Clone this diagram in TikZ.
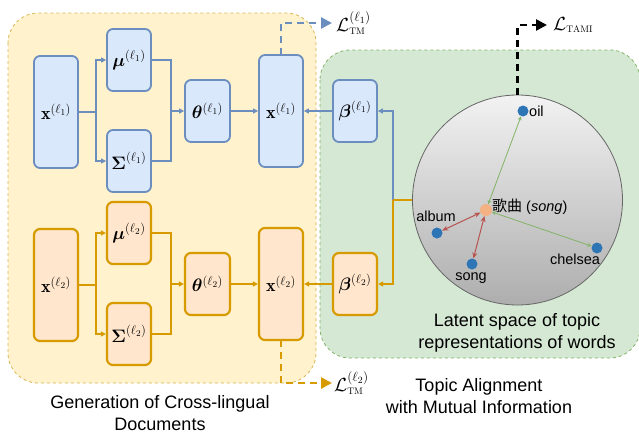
\RequirePackage{fix-cm}
\documentclass[tikz,border=0pt]{standalone}
\usepackage{fontspec}
\usepackage{amsmath,bm}
\newfontfamily\arialf{Liberation Sans}
\newfontfamily\cjkf{Noto Sans CJK SC}
\usetikzlibrary{arrows.meta,calc}
\definecolor{bstroke}{HTML}{6C8EBF}
\definecolor{bfill}{HTML}{DAE8FC}
\definecolor{ostroke}{HTML}{D79B00}
\definecolor{ofill}{HTML}{FFE6CC}
\definecolor{yfill}{HTML}{FFF2CC}
\definecolor{ystroke}{HTML}{D6B656}
\definecolor{gfill}{HTML}{D5E8D4}
\definecolor{gstroke}{HTML}{82B366}
\definecolor{rstroke}{HTML}{B85450}
\definecolor{dotblue}{HTML}{2E75B6}
\definecolor{dotsalmon}{HTML}{F4B183}
\tikzset{
  box/.style={draw, rounded corners=6pt, line width=1.8pt, minimum width=44pt, inner sep=0pt, font=\fontsize{18}{21}\selectfont},
  bbox/.style={box, draw=bstroke, fill=bfill},
  obox/.style={box, draw=ostroke, fill=ofill, line width=2.2pt},
  bconn/.style={draw=bstroke, line width=1.2pt, -{Triangle[length=5pt,width=5pt]}},
  oconn/.style={draw=ostroke, line width=1.6pt, -{Triangle[length=5pt,width=5pt]}},
  bplain/.style={draw=bstroke, line width=1.2pt},
  oplain/.style={draw=ostroke, line width=1.6pt},
  dashout/.style={line width=2.6pt, dash pattern=on 7pt off 5pt, -{Triangle[length=11pt,width=11pt]}},
  region/.style={dashed, line width=0.8pt, rounded corners=30pt},
  wdot/.style={circle, inner sep=0pt, minimum size=11pt, fill=dotblue},
  wlabel/.style={font=\arialf\fontsize{14.5}{16}\selectfont, inner sep=1pt},
  txt/.style={font=\arialf\fontsize{18}{22}\selectfont, align=center},
  lossl/.style={anchor=west, inner sep=2pt, font=\fontsize{19}{22}\selectfont},
}
\begin{document}
\begin{tikzpicture}[x=1pt,y=-1pt]
\useasboundingbox (0,0) rectangle (639,434);
% regions
\draw[region, draw=ystroke, fill=yfill] (8,13) rectangle (316,383);
\draw[region, draw=gstroke, fill=gfill] (320,50) rectangle (640,358);
% circle
\node[circle, draw=black!60, line width=0.8pt, top color=black!5, bottom color=black!32, minimum size=210pt, inner sep=0pt] (sp) at (517.5,200) {};
% blue row
\node[bbox, minimum height=112pt] (x1L) at (56,112) {$\mathbf{x}^{(\ell_1)}$};
\node[bbox, minimum height=62pt] (mu1) at (129,60) {$\bm{\mu}^{(\ell_1)}$};
\node[bbox, minimum height=62pt] (S1) at (129,161) {$\bm{\Sigma}^{(\ell_1)}$};
\node[bbox, minimum height=62pt, minimum width=45pt] (th1) at (207.5,111) {$\bm{\theta}^{(\ell_1)}$};
\node[bbox, minimum height=112pt] (x1R) at (281,111) {$\mathbf{x}^{(\ell_1)}$};
\node[bbox, minimum height=62pt] (b1) at (355,111) {$\bm{\beta}^{(\ell_1)}$};
% orange row
\node[obox, minimum height=112pt] (x2L) at (56,285) {$\mathbf{x}^{(\ell_2)}$};
\node[obox, minimum height=62pt] (mu2) at (129,233) {$\bm{\mu}^{(\ell_2)}$};
\node[obox, minimum height=62pt] (S2) at (129,334) {$\bm{\Sigma}^{(\ell_2)}$};
\node[obox, minimum height=62pt, minimum width=45pt] (th2) at (207.5,284) {$\bm{\theta}^{(\ell_2)}$};
\node[obox, minimum height=112pt] (x2R) at (281,284) {$\mathbf{x}^{(\ell_2)}$};
\node[obox, minimum height=62pt] (b2) at (355,284) {$\bm{\beta}^{(\ell_2)}$};
% junctions
\coordinate (ja1) at (96,112);
\coordinate (jb1) at (171,111);
\coordinate (ja2) at (96,285);
\coordinate (jb2) at (171,284);
\coordinate (jc) at (393,200);
% blue connectors
\draw[bplain] (x1L.east) -- (ja1);
\draw[bconn] (ja1) |- (mu1.west);
\draw[bconn] (ja1) |- (S1.west);
\draw[bplain] (mu1.east) -| (jb1);
\draw[bplain] (S1.east) -| (jb1);
\draw[bconn] (jb1) -- (th1.west);
\draw[bconn] (th1.east) -- (x1R.west);
\draw[bconn] (b1.west) -- (x1R.east);
\draw[bconn] (jc) |- (b1.east);
% orange connectors
\draw[oplain] (x2L.east) -- (ja2);
\draw[oconn] (ja2) |- (mu2.west);
\draw[oconn] (ja2) |- (S2.west);
\draw[oplain] (mu2.east) -| (jb2);
\draw[oplain] (S2.east) -| (jb2);
\draw[oconn] (jb2) -- (th2.west);
\draw[oconn] (th2.east) -- (x2R.west);
\draw[oconn] (b2.west) -- (x2R.east);
\draw[oplain] (sp.west) -- (jc);
\draw[oconn] (jc) |- (b2.east);
% loss outputs
\coordinate (s1) at (281,55);
\coordinate (s2) at (281,340);
\coordinate (k1) at (281,23);
\coordinate (k2) at (281,383);
\coordinate (k3) at (517.5,25);
\coordinate (t1) at (332,23);
\coordinate (t2) at (332,383);
\coordinate (t3) at (547,25);
\draw[dashout, draw=bstroke] (s1) -- (k1) -- (t1);
\draw[dashout, draw=ostroke] (s2) -- (k2) -- (t2);
\draw[dashout, draw=black] (sp.north) -- (k3) -- (t3);
\node[lossl] (L1) at ($(t1)+(2,0)$) {$\mathcal{L}_{\mathrm{\scriptscriptstyle TM}}^{(\ell_1)}$};
\node[lossl] (L2) at ($(t2)+(0,0)$) {$\mathcal{L}_{\mathrm{\scriptscriptstyle TM}}^{(\ell_2)}$};
\node[lossl] (L3) at ($(t3)+(4,0)$) {$\mathcal{L}_{\mathrm{\scriptscriptstyle TAMI}}$};
% words in latent space
\node[circle, inner sep=0pt, minimum size=12pt, fill=dotsalmon] (c0) at (486,210) {};
\node[wdot] (oil) at (523,111) {};
\node[wdot] (alb) at (437,233) {};
\node[wdot] (sng) at (472,264) {};
\node[wdot] (che) at (597,248) {};
\draw[draw=gstroke, line width=0.8pt, {Stealth[open,length=4pt,width=4pt]}-{Stealth[open,length=4pt,width=4pt]}] (c0) -- (oil);
\draw[draw=gstroke, line width=0.8pt, {Stealth[open,length=4pt,width=4pt]}-{Stealth[open,length=4pt,width=4pt]}] (c0) -- (che);
\draw[draw=rstroke, line width=1pt, {Stealth[length=6pt,width=5pt]}-{Stealth[length=6pt,width=5pt]}] (c0) -- (alb);
\draw[draw=rstroke, line width=1pt, {Stealth[length=6pt,width=5pt]}-{Stealth[length=6pt,width=5pt]}] (c0) -- (sng);
\node[wlabel, anchor=west] (loil) at (528,111) {oil};
\node[wlabel, anchor=west] (lc0) at (491,207) {{\cjkf\fontsize{15}{16}\selectfont 歌曲} ({\itshape song})};
\node[wlabel] (lalb) at (436,216) {album};
\node[wlabel] (lsng) at (471,278) {song};
\node[wlabel] (lche) at (575,259) {chelsea};
% captions
\node[txt] (cap1) at (160,413) {Generation of Cross-lingual\\Documents};
\node[txt] (cap2) at (479,396) {Topic Alignment\\with Mutual Information};
\node[txt] (cap3) at (517,333) {Latent space of topic\\representations of words};
\end{tikzpicture}
\end{document}
